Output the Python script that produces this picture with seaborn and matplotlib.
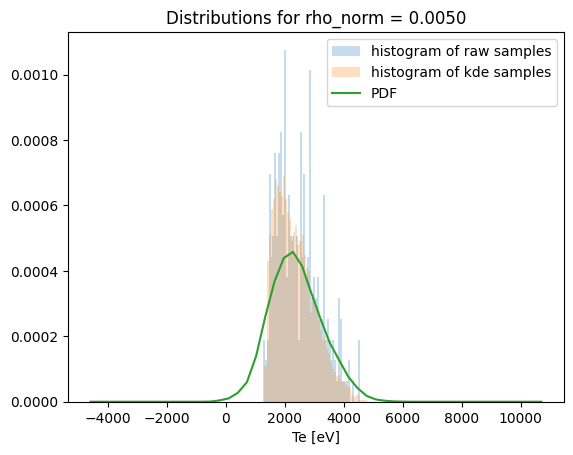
import numpy as np
import pandas as pd
import matplotlib
matplotlib.use("Agg")
import matplotlib.pyplot as plt
import seaborn as sns

# raw sample histogram (density, units of 1e-4), 50 bins
raw_lo, raw_hi = 1250, 4535
raw_heights = [1.90, 1.27, 1.90, 6.96, 4.43, 5.06, 7.60, 5.06, 7.60, 8.23,
               5.70, 10.76, 3.80, 6.33, 5.06, 5.06, 4.43, 5.06, 1.90, 8.23,
               4.43, 6.96, 3.80, 4.43, 10.13, 3.17, 3.80, 3.17, 3.80, 2.53,
               2.53, 6.33, 1.90, 2.53, 1.90, 1.27, 1.90, 1.27, 0.63, 3.17,
               2.53, 0.63, 0.63, 0.63, 1.27, 0.00, 0.63, 0.00, 0.00, 1.90]

# kde sample histogram (density, units of 1e-4), 50 bins
kde_lo, kde_hi = 1306, 4800
kde_heights = [1.1, 4.3, 5.1, 5.9, 6.2, 6.8, 6.6, 6.4, 6.3, 6.9,
               6.2, 5.8, 5.6, 4.9, 5.2, 5.4, 4.8, 4.9, 5.1, 4.5,
               4.1, 4.0, 2.7, 3.3, 3.0, 2.8, 2.5, 2.2, 1.9, 2.0,
               1.6, 1.5, 1.2, 1.0, 0.9, 0.8, 0.7, 0.6, 0.6, 0.5,
               0.45, 0.45, 0.2, 0.15, 0.2, 0.2, 0.06, 0.06, 0.06, 0.06]

# PDF evaluated on 50 points
pdf_lo, pdf_hi = -4600, 10710
pdf_values = [0, 0, 0, 0, 0, 0, 0, 0, 0, 0,
              0, 0, 0.001, 0.005, 0.04, 0.10, 0.27, 0.60, 1.40, 2.61,
              3.68, 4.39, 4.58, 4.14, 3.32, 2.53, 1.80, 1.28, 0.77, 0.42,
              0.18, 0.07, 0.03, 0.01, 0.003, 0.001, 0, 0, 0, 0,
              0, 0, 0, 0, 0, 0, 0, 0, 0, 0]

raw_edges = np.linspace(raw_lo, raw_hi, len(raw_heights) + 1)
kde_edges = np.linspace(kde_lo, kde_hi, len(kde_heights) + 1)
raw_df = pd.DataFrame({"Te": (raw_edges[:-1] + raw_edges[1:]) / 2,
                       "h": np.array(raw_heights) * 1e-4})
kde_df = pd.DataFrame({"Te": (kde_edges[:-1] + kde_edges[1:]) / 2,
                       "h": np.array(kde_heights) * 1e-4})
pdf_df = pd.DataFrame({"Te": np.linspace(pdf_lo, pdf_hi, len(pdf_values)),
                       "p": np.array(pdf_values) * 1e-4})

fig, ax = plt.subplots(figsize=(6.4, 4.8), dpi=100)

sns.histplot(data=raw_df, x="Te", weights="h", bins=list(raw_edges),
             color="C0", alpha=0.25, linewidth=0,
             label="histogram of raw samples", ax=ax)
sns.histplot(data=kde_df, x="Te", weights="h", bins=list(kde_edges),
             color="C1", alpha=0.25, linewidth=0,
             label="histogram of kde samples", ax=ax)
sns.lineplot(data=pdf_df, x="Te", y="p", color="C2", label="PDF", ax=ax)

ax.set_title("Distributions for rho_norm = 0.0050")
ax.set_xlabel("Te [eV]")
ax.set_ylabel("")

# keep legend in plotting order: raw, kde, PDF
handles, labels = ax.get_legend_handles_labels()
order = ["histogram of raw samples", "histogram of kde samples", "PDF"]
hmap = dict(zip(labels, handles))
ax.legend([hmap[l] for l in order], order, loc="upper right")

plt.savefig("out.png", dpi=100, bbox_inches="tight")
